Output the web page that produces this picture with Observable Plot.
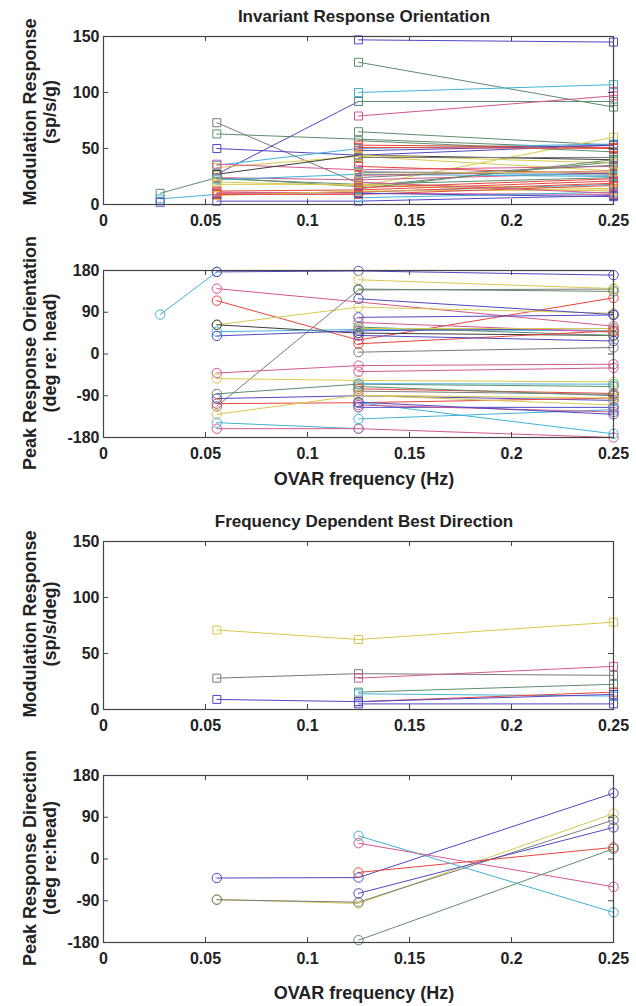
<!DOCTYPE html>
<html><head><meta charset="utf-8">
<script src="https://cdn.jsdelivr.net/npm/d3@7"></script>
<script src="https://cdn.jsdelivr.net/npm/@observablehq/plot@0.6"></script>
<style>
body{margin:0;background:#fff;}
#wrap{position:relative;width:636px;height:1006px;font-family:"Liberation Sans",Arial,sans-serif;color:#222;overflow:hidden;}
.panel{position:absolute;left:0;}
.title{position:absolute;font-weight:bold;font-size:17px;line-height:20px;white-space:nowrap;transform:translate(-50%,-50%);}
.xlab{position:absolute;font-weight:bold;font-size:18px;line-height:20px;white-space:nowrap;transform:translate(-50%,-50%);}
.ylab{position:absolute;font-weight:bold;font-size:18px;line-height:20px;text-align:center;white-space:nowrap;transform:translate(-50%,-50%) rotate(-90deg);}
</style></head>
<body><div id="wrap"></div>
<script>
// OVAR frequencies (Hz)
const freqs = [1/36, 1/18, 0.125, 0.25];
const xTicks = [0, 0.05, 0.1, 0.15, 0.2, 0.25];
const xTickLabels = ["0", "0.05", "0.1", "0.15", "0.2", "0.25"];
const gainTicks = [0, 50, 100, 150];
const phaseTicks = [-180, -90, 0, 90, 180];

const palette = {b: "#5148c4", g: "#5f8d6c", r: "#e8453c", c: "#42b2d5", m: "#d4588f", y: "#d9c94f", k: "#7a7a7a", d: "#3c3c3c"};

// Panel 1: Invariant response orientation – modulation response (sp/s/g)
const invGainColors = ["g","c","b","k","g","b","b","g","b","g","c","m","m","g","y","c","y","m","d","m","g","c","y","y","r","r","m","y","r","b","g","r","b","r","y","k","r","c","b","m","k","g","c","b","m","r","y"];
const invGainValues = [
  [10, 24, 16, 38],
  [5, 9, 11, 18],
  [2, null, null, null],
  [null, 73, 19, null],
  [null, 63, null, 50],
  [null, 50, 44, 53],
  [null, 27, 92, null],
  [null, null, 92, 92],
  [null, null, 147, 145],
  [null, null, 127, 87],
  [null, null, 100, 107],
  [null, null, 79, 97],
  [null, null, null, 101],
  [null, null, 65, 53],
  [null, null, 16, 60],
  [null, 35, 50, 54],
  [null, 33, 43, 30],
  [null, 36, 31, 34],
  [null, 27, 44, 40],
  [null, 24, 22, 28],
  [null, 23, 18, 24],
  [null, 22, 27, 25],
  [null, 20, 17, 12],
  [null, 18, 18, 14],
  [null, 12, 13, 21],
  [null, 10, 11, 19],
  [null, 11, 10, 9],
  [null, 8, 12, 13],
  [null, 9, 9, 17],
  [null, 3, 3, 8],
  [null, null, 57, 47],
  [null, null, 53, 51],
  [null, null, 48, 53],
  [null, null, 51, 50],
  [null, null, 44, 37],
  [null, null, 42, 42],
  [null, null, 34, 27],
  [null, null, 29, 26],
  [null, null, 29, 28],
  [null, null, 26, 30],
  [null, null, 24, 35],
  [null, null, 14, 40],
  [null, null, 6, 11],
  [null, null, 10, 7],
  [null, null, 20, 10],
  [null, null, 15, 23],
  [null, null, 28, 29]
];

// Panel 2: Invariant response orientation – peak response orientation (deg re: head)
const invPhaseColors = ["c","b","m","r","y","d","c","b","k","m","y","g","b","r","y","c","m","c","c","b","y","g","b","k","m","g","y","r","b","m","c","r","g","k","y","b","m","b"];
const invPhaseValues = [
  [85, 177, null, null],
  [null, 177, 179, 170],
  [null, 141, null, 60],
  [null, 115, 30, 121],
  [null, 63, 101, 88],
  [null, 63, 45, 40],
  [null, 48, 53, 50],
  [null, 39, 50, 55],
  [null, -113, 138, 140],
  [null, -41, -25, -22],
  [null, -53, -57, -60],
  [null, -86, -65, -70],
  [null, -96, -90, -100],
  [null, -107, -105, -95],
  [null, -130, -89, -110],
  [null, -148, -161, null],
  [null, -161, -161, -180],
  [null, null, -105, -172],
  [null, null, -140, -120],
  [null, null, 119, 85],
  [null, null, 160, 141],
  [null, null, 140, 135],
  [null, null, 79, 84],
  [null, null, 4, 14],
  [null, null, 68, 47],
  [null, null, 58, 40],
  [null, null, 55, 55],
  [null, null, 22, 50],
  [null, null, 40, 28],
  [null, null, -38, -30],
  [null, null, -64, -65],
  [null, null, -75, -85],
  [null, null, -70, -90],
  [null, null, -80, -87],
  [null, null, -89, -95],
  [null, null, -115, -115],
  [null, null, -110, -125],
  [null, null, -104, -130]
];

// Panel 3: Frequency dependent best direction – modulation response (sp/s/deg)
const fdGainColors = ["y","k","m","g","c","r","b","b"];
const fdGainValues = [
  [null, 71, 62.5, 78],
  [null, 28, 32, 30.5],
  [null, null, 28, 38.5],
  [null, null, 15.5, 22.5],
  [null, null, 14, 12],
  [null, null, 7, 15.5],
  [null, 9, 7, 13.5],
  [null, null, 5, 5]
];

// Panel 4: Frequency dependent best direction – peak response direction (deg re:head)
const fdPhaseColors = ["b","y","k","b","r","c","m","g"];
const fdPhaseValues = [
  [null, -41, -40, 142],
  [null, -87, -96, 98],
  [null, -88, -93, 84],
  [null, null, -74, 68],
  [null, null, -29, 25],
  [null, null, 50, -115],
  [null, null, 34, -60],
  [null, null, -175, 22]
];

const axisColor = "#444";

function panel({values, colors, yDomain, yTicks, symbol, r, top, height, marginTop, marginBottom}) {
  const data = [];
  values.forEach((row, s) => row.forEach((v, j) => {
    if (v != null) data.push({x: freqs[j], y: v, s, c: palette[colors[s]]});
  }));
  const marginLeft = 103, marginRight = 23, width = 636;
  const plotW = width - marginLeft - marginRight;
  const plotH = height - marginTop - marginBottom;
  const svg = Plot.plot({
    width, height, marginLeft, marginRight, marginTop, marginBottom,
    style: {fontFamily: '"Liberation Sans", Arial, sans-serif', fontSize: "16px", fontWeight: "bold", color: "#222", background: "transparent", overflow: "visible"},
    x: {domain: [0, 0.25], label: null},
    y: {domain: yDomain, label: null},
    color: {type: "identity"},
    marks: [
      Plot.line(data, {x: "x", y: "y", z: "s", stroke: "c", strokeWidth: 1}),
      Plot.dot(data, {x: "x", y: "y", stroke: "c", fill: "none", symbol, r, strokeWidth: 1}),
      Plot.frame({stroke: axisColor, strokeWidth: 1.2}),
      Plot.tickX(xTicks, {x: d => d, stroke: axisColor, insetTop: plotH - 5}),
      Plot.tickX(xTicks, {x: d => d, stroke: axisColor, insetBottom: plotH - 5}),
      Plot.tickY(yTicks, {y: d => d, stroke: axisColor, insetRight: plotW - 5}),
      Plot.tickY(yTicks, {y: d => d, stroke: axisColor, insetLeft: plotW - 5}),
      Plot.axisX(xTicks, {tickSize: 0, tickPadding: 10, tickFormat: d => xTickLabels[xTicks.indexOf(d)]}),
      Plot.axisY(yTicks, {tickSize: 0, tickPadding: 4, tickFormat: d => String(d)})
    ]
  });
  svg.classList.add("panel");
  svg.style.top = top + "px";
  return svg;
}

const wrap = document.getElementById("wrap");
wrap.appendChild(panel({values: invGainValues, colors: invGainColors, yDomain: [0, 150], yTicks: gainTicks, symbol: "square", r: 4.5, top: 0, height: 240, marginTop: 36, marginBottom: 36}));
wrap.appendChild(panel({values: invPhaseValues, colors: invPhaseColors, yDomain: [-180, 180], yTicks: phaseTicks, symbol: "circle", r: 4.7, top: 240, height: 250, marginTop: 30, marginBottom: 53}));
wrap.appendChild(panel({values: fdGainValues, colors: fdGainColors, yDomain: [0, 150], yTicks: gainTicks, symbol: "square", r: 4.5, top: 500, height: 250, marginTop: 41, marginBottom: 41}));
wrap.appendChild(panel({values: fdPhaseValues, colors: fdPhaseColors, yDomain: [-180, 180], yTicks: phaseTicks, symbol: "circle", r: 4.7, top: 750, height: 230, marginTop: 25, marginBottom: 38}));

function addText(cls, text, x, y) {
  const el = document.createElement("div");
  el.className = cls;
  el.style.left = x + "px";
  el.style.top = y + "px";
  el.innerHTML = text;
  wrap.appendChild(el);
}
addText("title", "Invariant Response Orientation", 364, 17);
addText("title", "Frequency Dependent Best Direction", 364, 522);
addText("xlab", "OVAR frequency (Hz)", 364, 479);
addText("xlab", "OVAR frequency (Hz)", 364, 993);
addText("ylab", "Modulation Response<br>(sp/s/g)", 40, 112);
addText("ylab", "Peak Response Orientation<br>(deg re: head)", 40, 353);
addText("ylab", "Modulation Response<br>(sp/s/deg)", 40, 624);
addText("ylab", "Peak Response Direction<br>(deg re:head)", 40, 858);
</script>
</body></html>
